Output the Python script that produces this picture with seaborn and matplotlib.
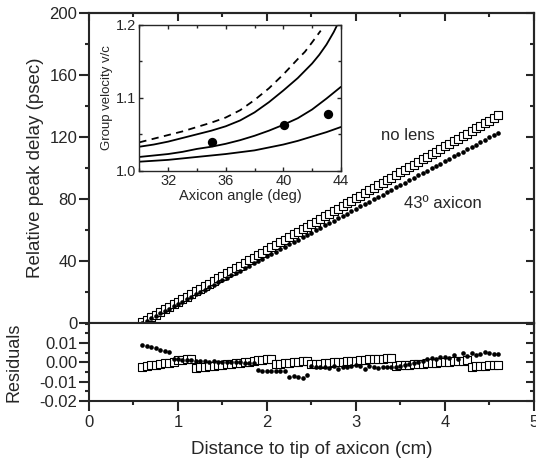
import numpy as np
import pandas as pd
import matplotlib
matplotlib.use('Agg')
import matplotlib.pyplot as plt
import seaborn as sns
from matplotlib.ticker import MultipleLocator, FormatStrFormatter

sns.set_style('ticks')
plt.rcParams['font.family'] = ['Liberation Sans', 'DejaVu Sans']
plt.rcParams['axes.unicode_minus'] = False

# --- data ---
dist = [0.60, 0.65, 0.70, 0.75, 0.80, 0.85, 0.90, 0.95, 1.00, 1.05,
        1.10, 1.15, 1.20, 1.25, 1.30, 1.35, 1.40, 1.45, 1.50, 1.55,
        1.60, 1.65, 1.70, 1.75, 1.80, 1.85, 1.90, 1.95, 2.00, 2.05,
        2.10, 2.15, 2.20, 2.25, 2.30, 2.35, 2.40, 2.45, 2.50, 2.55,
        2.60, 2.65, 2.70, 2.75, 2.80, 2.85, 2.90, 2.95, 3.00, 3.05,
        3.10, 3.15, 3.20, 3.25, 3.30, 3.35, 3.40, 3.45, 3.50, 3.55,
        3.60, 3.65, 3.70, 3.75, 3.80, 3.85, 3.90, 3.95, 4.00, 4.05,
        4.10, 4.15, 4.20, 4.25, 4.30, 4.35, 4.40, 4.45, 4.50, 4.55,
        4.60]

delay_nolens = [0.3, 2.0, 3.6, 5.3, 7.0, 8.7, 10.3, 12.0, 13.7, 15.3,
                17.0, 18.7, 20.3, 22.0, 23.7, 25.4, 27.0, 28.7, 30.4, 32.0,
                33.7, 35.4, 37.0, 38.7, 40.4, 42.1, 43.7, 45.4, 47.1, 48.7,
                50.4, 52.1, 53.7, 55.4, 57.1, 58.8, 60.4, 62.1, 63.8, 65.4,
                67.1, 68.8, 70.4, 72.1, 73.8, 75.5, 77.1, 78.8, 80.5, 82.1,
                83.8, 85.5, 87.1, 88.8, 90.5, 92.2, 93.8, 95.5, 97.2, 98.8,
                100.5, 102.2, 103.8, 105.5, 107.2, 108.9, 110.5, 112.2, 113.9, 115.5,
                117.2, 118.9, 120.5, 122.2, 123.9, 125.6, 127.2, 128.9, 130.6, 132.2,
                133.9]

delay_axicon = [0.0, 1.5, 3.1, 4.6, 6.1, 7.7, 9.2, 10.7, 12.3, 13.8,
                15.4, 16.9, 18.4, 20.0, 21.5, 23.0, 24.6, 26.1, 27.6, 29.2,
                30.7, 32.2, 33.8, 35.3, 36.8, 38.4, 39.9, 41.4, 43.0, 44.5,
                46.1, 47.6, 49.1, 50.7, 52.2, 53.7, 55.3, 56.8, 58.3, 59.9,
                61.4, 62.9, 64.5, 66.0, 67.5, 69.1, 70.6, 72.1, 73.7, 75.2,
                76.8, 78.3, 79.8, 81.4, 82.9, 84.4, 86.0, 87.5, 89.0, 90.6,
                92.1, 93.6, 95.2, 96.7, 98.2, 99.8, 101.3, 102.8, 104.4, 105.9,
                107.5, 109.0, 110.5, 112.1, 113.6, 115.1, 116.7, 118.2, 119.7, 121.3,
                122.8]

resid_nolens = [-0.0022, -0.0019, -0.0015, -0.0012, -0.0008, -0.0005, -0.0001, 0.0004, 0.0010, 0.0013,
                0.0016, 0.0019, -0.0028, -0.0025, -0.0023, -0.0020, -0.0017, -0.0015, -0.0012, -0.0009,
                -0.0006, -0.0004, -0.0001, 0.0002, 0.0004, 0.0007, 0.0010, 0.0012, 0.0015, 0.0018,
                -0.0009, -0.0006, -0.0004, -0.0001, 0.0002, 0.0004, 0.0007, 0.0009, -0.0010, -0.0008,
                -0.0006, -0.0004, -0.0002, 0.0000, 0.0001, 0.0003, 0.0005, 0.0007, 0.0009, 0.0011,
                0.0013, 0.0015, 0.0016, 0.0018, 0.0020, 0.0022, 0.0024, -0.0017, -0.0015, -0.0014,
                -0.0012, -0.0010, -0.0008, -0.0007, -0.0005, -0.0003, -0.0002, 0.0000, 0.0002, 0.0003,
                0.0005, 0.0007, 0.0008, 0.0010, -0.0022, -0.0021, -0.0019, -0.0018, -0.0016, -0.0015,
                -0.0013]

resid_axicon = [0.0092, 0.0085, 0.0078, 0.0072, 0.0066, 0.0061, 0.0056, 0.0016, 0.0018, 0.0013,
                0.0014, 0.0010, 0.0008, 0.0006, 0.0006, 0.0004, 0.0005, 0.0003, 0.0004, 0.0002,
                0.0002, 0.0001, 0.0000, -0.0001, -0.0002, -0.0005, -0.0038, -0.0043, -0.0047, -0.0045,
                -0.0044, -0.0042, -0.0046, -0.0075, -0.0072, -0.0074, -0.0082, -0.0066, -0.0018, -0.0022,
                -0.0025, -0.0022, -0.0028, -0.0021, -0.0034, -0.0026, -0.0022, -0.0019, -0.0012, -0.0020,
                -0.0033, -0.0018, -0.0024, -0.0030, -0.0022, -0.0026, -0.0024, -0.0022, -0.0020, -0.0012,
                -0.0008, -0.0003, 0.0002, 0.0008, 0.0015, 0.0022, 0.0018, 0.0026, 0.0030, 0.0024,
                0.0038, 0.0020, 0.0046, 0.0035, 0.0050, 0.0040, 0.0043, 0.0055, 0.0047, 0.0043,
                0.0042]

# inset: group velocity vs axicon angle
dash_angle = [30.0, 31.0, 32.0, 33.0, 34.0, 35.0, 36.0, 37.0, 38.0, 39.0, 40.0, 41.0, 41.5, 42.0, 42.6]
dash_v = [1.039, 1.044, 1.049, 1.054, 1.060, 1.066, 1.073, 1.083, 1.097, 1.113, 1.132, 1.153, 1.163, 1.176, 1.192]
top_angle = [30.0, 31.0, 32.0, 33.0, 34.0, 35.0, 36.0, 37.0, 38.0, 39.0, 40.0, 41.0, 41.5, 42.0,
             42.5, 43.0, 43.5, 43.75]
top_v = [1.033, 1.036, 1.040, 1.045, 1.050, 1.055, 1.061, 1.069, 1.080, 1.094, 1.110, 1.127, 1.137, 1.147,
         1.159, 1.173, 1.190, 1.200]
mid_angle = [30.0, 31.0, 32.0, 33.0, 34.0, 35.0, 36.0, 37.0, 38.0, 39.0, 40.0, 41.0, 42.0, 43.0, 44.0]
mid_v = [1.019, 1.021, 1.023, 1.026, 1.030, 1.033, 1.037, 1.042, 1.048, 1.055, 1.063, 1.072, 1.084, 1.099, 1.115]
low_angle = [30.0, 32.0, 34.0, 36.0, 37.0, 38.0, 39.0, 40.0, 41.0, 42.0, 43.0, 44.0]
low_v = [1.0125, 1.015, 1.019, 1.023, 1.0255, 1.028, 1.032, 1.036, 1.041, 1.047, 1.053, 1.060]
meas_angle = [35.06, 40.06, 43.07]
meas_v = [1.040, 1.063, 1.078]

df = pd.DataFrame({'dist': dist, 'nolens': delay_nolens, 'axicon': delay_axicon,
                   'r_nolens': resid_nolens, 'r_axicon': resid_axicon})

fig = plt.figure(figsize=(5.36, 4.68), dpi=100)
ax = fig.add_axes([0.166, 0.310, 0.830, 0.662])
axr = fig.add_axes([0.166, 0.143, 0.830, 0.167], sharex=ax)
axin = fig.add_axes([0.260, 0.635, 0.376, 0.312])

sq = dict(marker='s', color='white', edgecolor='black', linewidth=0.8)
ci = dict(marker='o', color='black', edgecolor='black', linewidth=0)

# main panel
sns.scatterplot(data=df, x='dist', y='nolens', s=26, ax=ax, zorder=3, **sq)
sns.scatterplot(data=df, x='dist', y='axicon', s=11, ax=ax, zorder=4, **ci)
ax.set_xlim(0, 5)
ax.set_ylim(0, 200)
ax.yaxis.set_major_locator(MultipleLocator(40))
ax.yaxis.set_minor_locator(MultipleLocator(20))
ax.xaxis.set_major_locator(MultipleLocator(1))
ax.xaxis.set_minor_locator(MultipleLocator(0.5))
ax.tick_params(which='both', direction='out', labelbottom=False, labelsize=12,
               width=1.5, pad=1.5)
ax.tick_params(which='major', length=7)
ax.tick_params(which='minor', length=3)
ax.set_xlabel('')
ax.set_ylabel('Relative peak delay (psec)', fontsize=13.5)
ax.yaxis.set_label_coords(-0.102, 0.5)
ax.text(3.58, 121, 'no lens', fontsize=12, ha='center', va='center')
ax.text(3.98, 77, '43º axicon', fontsize=12, ha='center', va='center')

# top / right inward ticks (Origin style)
for a, ymaj, ymin in [(ax, 40, 20), (axr, 0.01, 0.005)]:
    sec = a.secondary_yaxis('right')
    sec.yaxis.set_major_locator(MultipleLocator(ymaj))
    sec.yaxis.set_minor_locator(MultipleLocator(ymin))
    sec.tick_params(which='both', direction='in', labelright=False, width=1.5)
    sec.tick_params(which='major', length=6)
    sec.tick_params(which='minor', length=3)
    sec.spines['right'].set_linewidth(1.5)
top = ax.secondary_xaxis('top')
top.xaxis.set_major_locator(MultipleLocator(1))
top.xaxis.set_minor_locator(MultipleLocator(0.5))
top.tick_params(which='both', direction='in', labeltop=False, width=1.5)
top.tick_params(which='major', length=6)
top.tick_params(which='minor', length=3)
top.spines['top'].set_linewidth(1.5)

# residual panel
sns.scatterplot(data=df, x='dist', y='r_nolens', s=34, ax=axr, zorder=3, **sq)
sns.scatterplot(data=df, x='dist', y='r_axicon', s=11, ax=axr, zorder=4, **ci)
axr.set_ylim(-0.02, 0.0204)
axr.set_yticks([-0.02, -0.01, 0.0, 0.01])
axr.yaxis.set_minor_locator(MultipleLocator(0.005))
axr.yaxis.set_major_formatter(FormatStrFormatter('%.2f'))
axr.tick_params(which='both', direction='out', labelsize=12, width=1.5, pad=1.5)
axr.tick_params(axis='x', labelsize=12, pad=3)
axr.tick_params(which='major', length=7)
axr.tick_params(which='minor', length=3)
axr.set_xlabel('Distance to tip of axicon (cm)', fontsize=13.5, labelpad=8)
axr.set_ylabel('Residuals', fontsize=13)
axr.yaxis.set_label_coords(-0.149, 0.5)

for a in (ax, axr):
    for s in a.spines.values():
        s.set_linewidth(1.5)
        s.set_visible(True)

# inset
lw = 1.3
sns.lineplot(x=dash_angle, y=dash_v, ax=axin, color='black', lw=lw, sort=False,
             linestyle=(0, (4, 3)))
sns.lineplot(x=top_angle, y=top_v, ax=axin, color='black', lw=lw, sort=False)
sns.lineplot(x=mid_angle, y=mid_v, ax=axin, color='black', lw=lw, sort=False)
sns.lineplot(x=low_angle, y=low_v, ax=axin, color='black', lw=lw, sort=False)
sns.scatterplot(x=meas_angle, y=meas_v, ax=axin, color='black', s=45, linewidth=0,
                zorder=5)
axin.set_xlim(30, 44)
axin.set_ylim(1.0, 1.2)
axin.set_xticks([32, 36, 40, 44])
axin.xaxis.set_minor_locator(MultipleLocator(2))
axin.set_yticks([1.0, 1.1, 1.2])
axin.yaxis.set_minor_locator(MultipleLocator(0.05))
axin.yaxis.set_major_formatter(FormatStrFormatter('%.1f'))
axin.tick_params(which='both', direction='in', top=True, right=True,
                 labelsize=10.5, width=1, pad=2)
axin.tick_params(which='major', length=3)
axin.tick_params(which='minor', length=2)
axin.set_xlabel('Axicon angle (deg)', fontsize=10.5, labelpad=1)
axin.set_ylabel('Group velocity v/c', fontsize=9.5, labelpad=2)
for s in axin.spines.values():
    s.set_linewidth(1)

fig.savefig('out.png', dpi=100)
